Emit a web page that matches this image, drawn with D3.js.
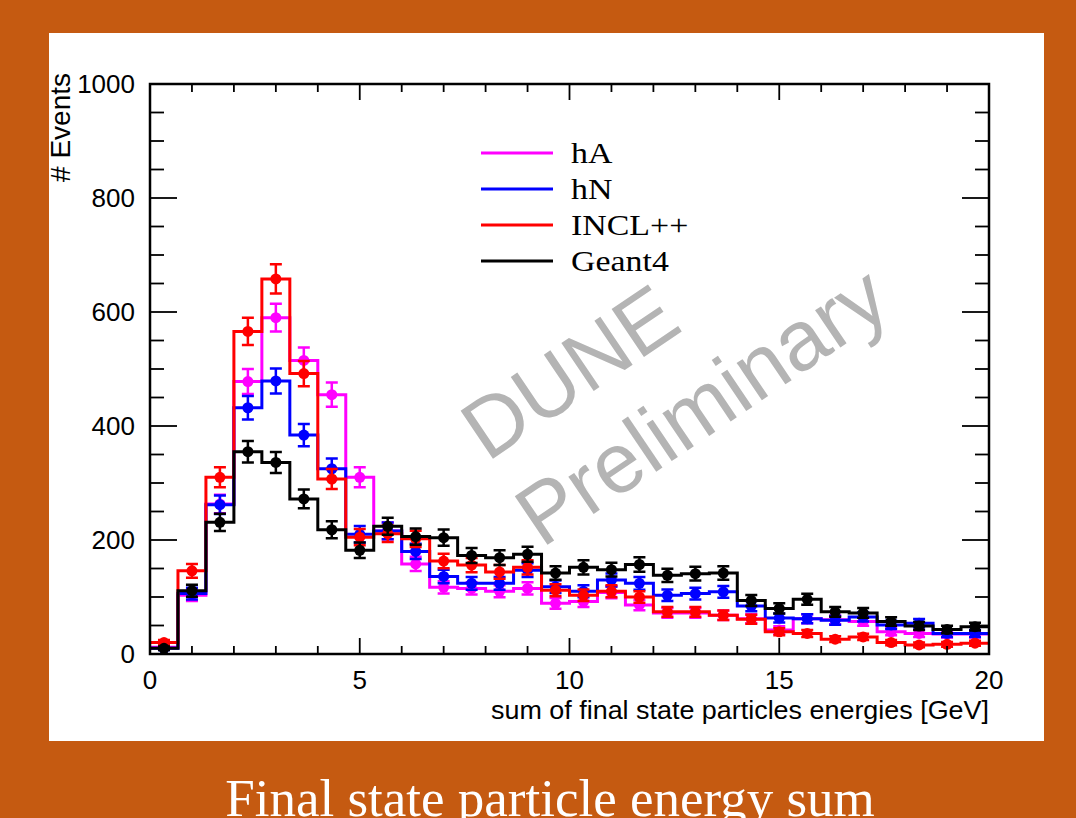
<!DOCTYPE html>
<html lang="en">
<head>
    <meta charset="UTF-8">
    <title>Final state particle energy sum</title>
    <script src="https://d3js.org/d3.v7.min.js"></script>
    <style>
        html, body { margin: 0; padding: 0; background: #c55a11; }
        svg { display: block; }
        .axis-text { font-family: "Liberation Sans", Arial, Helvetica, sans-serif; fill: #000; }
        .serif { font-family: "Liberation Serif", "Times New Roman", serif; }
    </style>
</head>
<body>
<script>
    // histogram binning: 30 bins from 0 to 20 GeV
    var nBins = 30;
    var xRange = [0, 20];
    var yRange = [0, 1000];

    // bin contents
    var hA = [12, 103, 263, 478, 590, 515, 455, 310, 216, 158, 117, 115, 110, 115, 89,
              92, 108, 86, 72, 72, 68, 62, 42, 62, 60, 57, 39, 36, 35, 35];
    var hN = [10, 106, 262, 432, 479, 384, 325, 210, 216, 180, 136, 124, 124, 147, 118,
              110, 130, 124, 103, 106, 109, 84, 63, 62, 59, 65, 51, 54, 36, 36];
    var incl = [20, 146, 310, 566, 658, 492, 307, 205, 211, 202, 163, 156, 144, 152, 112,
                103, 110, 100, 74, 74, 68, 61, 39, 36, 26, 30, 20, 16, 17, 19];
    var geant4 = [10, 111, 231, 355, 336, 272, 218, 182, 224, 206, 204, 173, 169, 175, 142,
                  152, 148, 157, 138, 141, 142, 94, 80, 96, 74, 72, 57, 49, 43, 48];

    var seriesNames = ["hA", "hN", "INCL++", "Geant4"];
    var seriesColors = ["#ff00ff", "#0000ff", "#ff0000", "#000000"];
    var seriesValues = [hA, hN, incl, geant4];

    var xTicks = [0, 5, 10, 15, 20];
    var yTicks = [0, 200, 400, 600, 800, 1000];

    var W = 1076, H = 818;
    var svg = d3.select("body").append("svg")
        .attr("width", W)
        .attr("height", H);

    // white panel on the orange slide
    svg.append("rect")
        .attr("x", 49).attr("y", 33)
        .attr("width", 995).attr("height", 708)
        .attr("fill", "#fff");

    // plot frame (note: "top" is taken by window.top, so prefixed names)
    var pL = 150, pR = 989, pT = 84, pB = 654;
    var x = d3.scaleLinear().domain(xRange).range([pL, pR]);
    var y = d3.scaleLinear().domain(yRange).range([pB, pT]);
    var bw = (xRange[1] - xRange[0]) / nBins;

    svg.append("defs").append("clipPath").attr("id", "plot")
        .append("rect")
        .attr("x", pL).attr("y", pT)
        .attr("width", pR - pL).attr("height", pB - pT);

    // watermark
    var wm = svg.append("g")
        .attr("fill", "#b4b4b4")
        .style("font-family", "'Liberation Sans', Arial, Helvetica, sans-serif");
    wm.append("text")
        .attr("transform", "translate(586,396) rotate(-34)")
        .attr("text-anchor", "middle")
        .style("font-size", "84px")
        .text("DUNE");
    wm.append("text")
        .attr("transform", "translate(718,430) rotate(-34)")
        .attr("text-anchor", "middle")
        .style("font-size", "85px")
        .text("Preliminary");

    // histograms
    var plot = svg.append("g").attr("clip-path", "url(#plot)");

    seriesValues.forEach(function (vals, s) {
        var color = seriesColors[s];
        var g = plot.append("g");

        // step outline
        var d = "M" + x(xRange[0]) + "," + y(vals[0]);
        vals.forEach(function (v, i) {
            d += "H" + x(xRange[0] + (i + 1) * bw);
            if (i + 1 < vals.length) d += "V" + y(vals[i + 1]);
        });
        g.append("path")
            .attr("d", d)
            .attr("fill", "none")
            .attr("stroke", color)
            .attr("stroke-width", 3);

        // poisson error bars with caps
        var pts = g.selectAll(".pt")
            .data(vals)
            .enter()
            .append("g")
            .attr("transform", function (v, i) {
                return "translate(" + x(xRange[0] + (i + 0.5) * bw) + ",0)";
            });
        pts.append("path")
            .attr("d", function (v) {
                var e = Math.sqrt(v);
                var y1 = y(v + e), y2 = y(Math.max(v - e, 0));
                return "M0," + y1 + "V" + y2 + "M-6," + y1 + "H6M-6," + y2 + "H6";
            })
            .attr("stroke", color)
            .attr("stroke-width", 2.5)
            .attr("fill", "none");
        pts.append("circle")
            .attr("cy", function (v) { return y(v); })
            .attr("r", 5.5)
            .attr("fill", color);
    });

    // frame and ticks (ROOT style, on all four sides)
    var frame = svg.append("g").attr("stroke", "#000").attr("fill", "none");
    frame.append("rect")
        .attr("x", pL).attr("y", pT)
        .attr("width", pR - pL).attr("height", pB - pT)
        .attr("stroke-width", 2.5);

    d3.range(0, 21, 1).forEach(function (t) {
        var len = (t % 5 === 0) ? 16 : 8;
        frame.append("line")
            .attr("x1", x(t)).attr("x2", x(t))
            .attr("y1", pB).attr("y2", pB - len)
            .attr("stroke-width", 1.8);
        frame.append("line")
            .attr("x1", x(t)).attr("x2", x(t))
            .attr("y1", pT).attr("y2", pT + len)
            .attr("stroke-width", 1.8);
    });
    d3.range(0, 1001, 50).forEach(function (t) {
        var len = (t % 200 === 0) ? 27 : 14;
        frame.append("line")
            .attr("x1", pL).attr("x2", pL + len)
            .attr("y1", y(t)).attr("y2", y(t))
            .attr("stroke-width", 1.8);
        frame.append("line")
            .attr("x1", pR).attr("x2", pR - len)
            .attr("y1", y(t)).attr("y2", y(t))
            .attr("stroke-width", 1.8);
    });

    // tick labels
    svg.selectAll(".xl")
        .data(xTicks)
        .enter()
        .append("text")
        .attr("class", "axis-text")
        .attr("x", function (d) { return x(d); })
        .attr("y", 689)
        .attr("text-anchor", "middle")
        .style("font-size", "26px")
        .text(function (d) { return d; });

    svg.selectAll(".yl")
        .data(yTicks)
        .enter()
        .append("text")
        .attr("class", "axis-text")
        .attr("x", 135)
        .attr("y", function (d) { return y(d) + 9; })
        .attr("text-anchor", "end")
        .style("font-size", "26px")
        .text(function (d) { return d; });

    // axis titles
    svg.append("text")
        .attr("class", "axis-text")
        .attr("x", pR)
        .attr("y", 719)
        .attr("text-anchor", "end")
        .style("font-size", "25px")
        .attr("textLength", 498)
        .attr("lengthAdjust", "spacingAndGlyphs")
        .text("sum of final state particles energies [GeV]");

    svg.append("text")
        .attr("class", "axis-text")
        .attr("transform", "translate(70,73) rotate(-90)")
        .attr("text-anchor", "end")
        .style("font-size", "28px")
        .text("# Events");

    // legend (the slide picture is a bit stretched sideways)
    var legend = svg.append("g");
    seriesNames.forEach(function (name, i) {
        var ly = 153 + i * 36;
        legend.append("line")
            .attr("x1", 481).attr("x2", 553)
            .attr("y1", ly).attr("y2", ly)
            .attr("stroke", seriesColors[i])
            .attr("stroke-width", 3);
        legend.append("text")
            .attr("class", "serif")
            .attr("transform", "translate(571," + (ly + 10) + ") scale(1.13,1)")
            .style("font-size", "30px")
            .attr("fill", "#000")
            .text(name);
    });

    // slide caption
    svg.append("text")
        .attr("class", "serif")
        .attr("x", 550)
        .attr("y", 816)
        .attr("text-anchor", "middle")
        .attr("fill", "#fff")
        .style("font-size", "53px")
        .text("Final state particle energy sum");
</script>
</body>
</html>
